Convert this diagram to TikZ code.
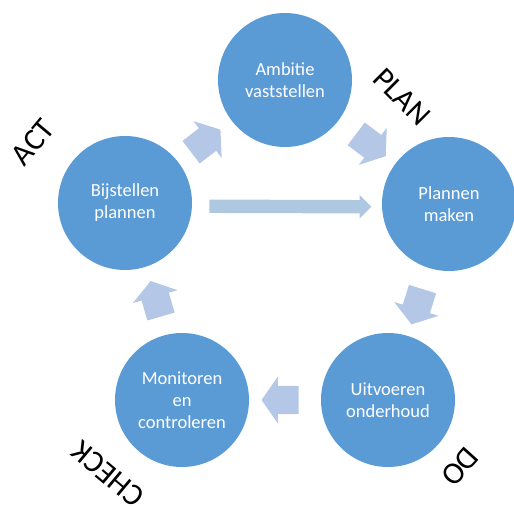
\documentclass[tikz,border=0pt]{standalone}
\usepackage{fontspec}
\setmainfont{Carlito}
\usetikzlibrary{shapes.arrows}
\definecolor{phaseblue}{HTML}{5B9BD5}
\definecolor{steplight}{HTML}{B4C7E7}
\definecolor{barlight}{HTML}{ADC8E0}
\tikzset{
  phase/.style={circle, fill=phaseblue, minimum size=134pt, inner sep=0pt,
    text=white, align=center, font=\fontsize{18.5}{22}\selectfont},
  turnarrow/.style={single arrow, fill=steplight, sloped, allow upside down,
    minimum height=37pt, inner xsep=0pt, inner ysep=14pt,
    single arrow head extend=9pt, single arrow tip angle=110},
  bararrow/.style={single arrow, fill=barlight, sloped,
    minimum height=162pt, inner xsep=0pt, inner ysep=6.5pt,
    single arrow head extend=5pt, single arrow tip angle=90},
  cyclelabel/.style={font=\fontsize{31}{36}\selectfont, inner sep=0pt}
}

\begin{document}
\begin{tikzpicture}[x=1pt,y=-1pt]
	%%%%% START %%%%%
	\useasboundingbox (0,0) rectangle (514,506);

	% circles of the cycle
	\node[phase] (amb) at (285,80) {Ambitie\\vaststellen};
	\node[phase] (pla) at (449,204) {Plannen\\maken};
	\node[phase] (uit) at (388,400) {Uitvoeren\\onderhoud};
	\node[phase] (mon) at (182,400) {Monitoren\\en\\controleren};
	\node[phase] (bij) at (125,203) {Bijstellen\\plannen};

	% arrows between the circles
	\path (bij) -- node[turnarrow, xshift=-4pt] {} (amb);
	\path (amb) -- node[turnarrow] {} (pla);
	\path (pla) -- node[turnarrow] {} (uit);
	\path (uit) -- node[turnarrow] {} (mon);
	\path (mon) -- node[turnarrow, xshift=-3pt, yshift=-3pt] {} (bij);
	\path (bij) -- node[bararrow, yshift=-3pt] {} (pla);

	% phase names
	\node[cyclelabel, rotate=-45] (plan) at (402,97) {PLAN};
	\node[cyclelabel, rotate=228] (do) at (460,467) {DO};
	\node[cyclelabel, rotate=140] (check) at (108,474) {CHECK};
	\node[cyclelabel, rotate=50] (act) at (33,142) {ACT};
	%%%%% END %%%%%
\end{tikzpicture}
\end{document}
